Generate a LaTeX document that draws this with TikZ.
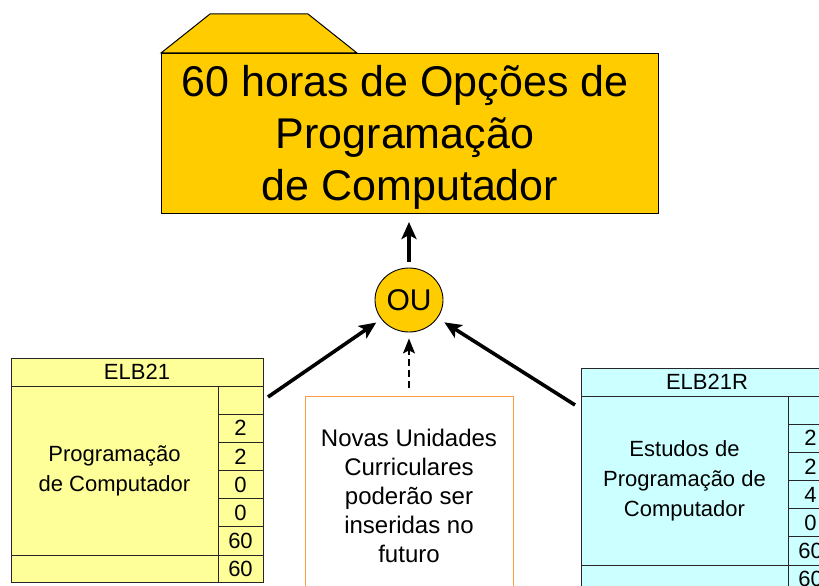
\documentclass[tikz,border=0pt]{standalone}
\usepackage{fontspec}
\setmainfont{Liberation Sans}
\usetikzlibrary{arrows.meta,shapes.geometric}
\definecolor{gold}{HTML}{FFCC00}
\definecolor{lyellow}{HTML}{FFFF99}
\definecolor{lcyan}{HTML}{CCFFFF}
\definecolor{orangeb}{HTML}{FF9944}
\tikzset{
  cell/.style={draw=black!85, line width=0.9pt, inner sep=0pt, outer sep=0pt, anchor=north west,
    font=\fontsize{22}{30}\selectfont, align=center},
  conn/.style={line width=3.6pt, -{Stealth[length=17pt,width=15pt,inset=4pt]}},
  dconn/.style={line width=1.3pt, dash pattern=on 7pt off 4pt, -{Stealth[length=15pt,width=12pt,inset=3pt]}}
}
\begin{document}
\begin{tikzpicture}[x=1pt,y=-1pt]
\useasboundingbox (0,0) rectangle (819,586);
\clip (0,0) rectangle (819,586);

% folder
\draw[fill=gold, line width=1pt] (161,53) -- (210,14) -- (308,14) -- (357,53) -- cycle;
\node[draw, fill=gold, line width=1pt, minimum width=497pt, minimum height=160pt, inner sep=0pt, anchor=north west] (folder) at (161,53) {};
\node[font=\fontsize{43}{52}\selectfont, align=center] (title) at (405,137) {60 horas de Opções de\\Programação\\\hspace*{10pt}de Computador};

% OU
\node[ellipse, draw, fill=gold, line width=0.9pt, minimum width=68pt, minimum height=64pt, inner sep=0pt,
  font=\fontsize{30}{34}\selectfont] (ou) at (409,300) {OU};

% left table
\node[cell, fill=lyellow, minimum width=252pt, minimum height=28pt] (h1) at (11,358) {ELB21};
\node[cell, fill=lyellow, minimum width=207pt, minimum height=169pt] (b1) at (11,386) {Programação\\de Computador};
\node[cell, fill=lyellow, minimum width=45pt, minimum height=28.17pt] (c10) at (218,386) {};
\node[cell, fill=lyellow, minimum width=45pt, minimum height=28.17pt] (c11) at (218,414.17) {2};
\node[cell, fill=lyellow, minimum width=45pt, minimum height=28.17pt] (c12) at (218,442.33) {2};
\node[cell, fill=lyellow, minimum width=45pt, minimum height=28.17pt] (c13) at (218,470.5) {0};
\node[cell, fill=lyellow, minimum width=45pt, minimum height=28.17pt] (c14) at (218,498.67) {0};
\node[cell, fill=lyellow, minimum width=45pt, minimum height=28.17pt] (c15) at (218,526.83) {60};
\node[cell, fill=lyellow, minimum width=207pt, minimum height=27pt] (f1) at (11,555) {};
\node[cell, fill=lyellow, minimum width=45pt, minimum height=27pt] (g1) at (218,555) {60};

% right table
\node[cell, fill=lcyan, minimum width=252pt, minimum height=28pt] (h2) at (581,368) {ELB21R};
\node[cell, fill=lcyan, minimum width=207pt, minimum height=169pt] (b2) at (581,396) {Estudos de\\Programação de\\Computador};
\node[cell, fill=lcyan, minimum width=45pt, minimum height=28.17pt] (c20) at (788,396) {};
\node[cell, fill=lcyan, minimum width=45pt, minimum height=28.17pt] (c21) at (788,424.17) {2};
\node[cell, fill=lcyan, minimum width=45pt, minimum height=28.17pt] (c22) at (788,452.33) {2};
\node[cell, fill=lcyan, minimum width=45pt, minimum height=28.17pt] (c23) at (788,480.5) {4};
\node[cell, fill=lcyan, minimum width=45pt, minimum height=28.17pt] (c24) at (788,508.67) {0};
\node[cell, fill=lcyan, minimum width=45pt, minimum height=28.17pt] (c25) at (788,536.83) {60};
\node[cell, fill=lcyan, minimum width=207pt, minimum height=28pt] (f2) at (581,565) {};
\node[cell, fill=lcyan, minimum width=45pt, minimum height=28pt] (g2) at (788,565) {60};

% new units box
\node[draw=orangeb, line width=1pt, minimum width=208pt, minimum height=200pt, inner sep=0pt, anchor=north west] (nb) at (305,396) {};
\node[font=\fontsize{24}{29}\selectfont, align=center] (nbt) at (409,495.5) {Novas Unidades\\Curriculares\\poderão ser\\inseridas no\\futuro};

% connectors
\coordinate (la) at (268,397);
\coordinate (ra) at (575,405);
\draw[conn, shorten >=6pt] (la) -- (ou);
\draw[conn, shorten >=8pt] (ra) -- (ou);
\draw[conn, shorten <=6pt, shorten >=8pt] (ou) -- (ou |- folder.south);
\draw[dconn, shorten <=8pt, shorten >=6pt] (ou |- nb.north) -- (ou);
\end{tikzpicture}
\end{document}
